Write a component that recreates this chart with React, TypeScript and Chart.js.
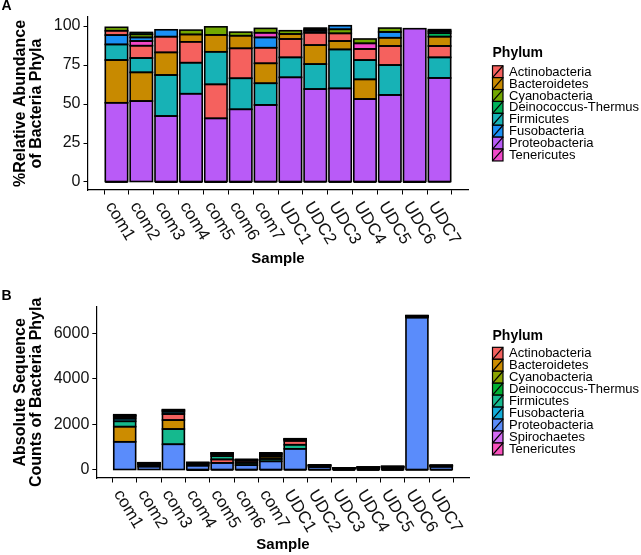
import React, { useEffect, useRef } from "react";
import { Chart, registerables } from "chart.js";

Chart.register(...registerables);

// ---------- shared ----------
const samples = ["com1", "com2", "com3", "com4", "com5", "com6", "com7", "UDC1", "UDC2", "UDC3", "UDC4", "UDC5", "UDC6", "UDC7"];

// ---------- Panel A: % relative abundance ----------
const phylaA = ["Actinobacteria", "Bacteroidetes", "Cyanobacteria", "Deinococcus-Thermus", "Firmicutes", "Fusobacteria", "Proteobacteria", "Tenericutes"];
const colorsA = ["#F5615E", "#C88A00", "#72A800", "#00B35A", "#17B2B6", "#1A90F5", "#B95BF7", "#F247C9"];
const actinoA = [2.8, 7.9, 10.1, 13.4, 21.8, 19.2, 10.0, 11.8, 7.9, 4.9, 7.1, 12.2, 0, 7.3];
const bacteroA = [27.4, 18.4, 14.5, 4.7, 10.8, 8.1, 12.8, 3.2, 12.2, 5.4, 12.6, 5.3, 0, 6.0];
const cyanoA = [2.2, 2.0, 0, 2.8, 5.2, 2.3, 2.8, 2.1, 1.0, 2.6, 2.8, 2.5, 0, 1.0];
const deinoA = [0, 1.2, 0, 0, 0, 0, 0, 0, 0.8, 0, 0, 0, 0, 2.3];
const firmA = [10.0, 9.2, 26.3, 19.9, 20.9, 19.9, 13.9, 12.8, 16.0, 25.0, 12.4, 19.2, 0, 13.2];
const fusoA = [6.0, 2.3, 4.4, 0, 0, 0, 6.6, 0, 1.2, 2.3, 0, 3.7, 0, 1.2];
const proteoA = [50.8, 51.9, 42.3, 56.6, 40.8, 46.6, 49.4, 67.1, 59.6, 60.0, 53.2, 55.8, 98.3, 66.7];
const teneriA = [0, 3.0, 0, 0, 0, 0, 3.0, 0, 0, 0, 3.6, 0, 0, 0];
const yTicksA = [0, 25, 50, 75, 100];

// ---------- Panel B: absolute sequence counts ----------
const phylaB = ["Actinobacteria", "Bacteroidetes", "Cyanobacteria", "Deinococcus-Thermus", "Firmicutes", "Fusobacteria", "Proteobacteria", "Spirochaetes", "Tenericutes"];
const colorsB = ["#F4615E", "#CC8C00", "#8BA400", "#00B033", "#15B98E", "#12AEDA", "#5A8CFB", "#D46BF5", "#F952BD"];
const actinoB = [75, 30, 265, 47, 155, 90, 75, 170, 18, 5, 10, 20, 20, 15];
const bacteroB = [665, 70, 395, 17, 80, 40, 100, 45, 27, 5, 19, 9, 15, 13];
const cyanoB = [55, 8, 50, 10, 40, 12, 22, 30, 2, 2.5, 4, 4, 8, 2];
const deinoB = [25, 6, 30, 0, 10, 5, 0, 10, 2, 0, 0, 0, 0, 5];
const firmB = [235, 35, 670, 70, 148, 95, 105, 180, 35, 23, 18, 30, 30, 28];
const fusoB = [115, 10, 100, 0, 10, 5, 50, 10, 3, 2.5, 0, 6, 0, 3];
const proteoB = [1240, 150, 1130, 190, 310, 215, 380, 930, 130, 55, 75, 90, 6700, 140];
const spiroB = [0, 0, 0, 0, 0, 0, 0, 0, 0, 0, 0, 0, 10, 0];
const teneriB = [20, 12, 15, 0, 0, 0, 23, 0, 0, 0, 5, 0, 5, 0];
const yTicksB = [0, 2000, 4000, 6000];

const FONT = "'Liberation Sans', Arial, Helvetica, sans-serif";

function buildLayers(values: number[][], colors: string[]) {
  const sorted = samples.map((_, i) =>
    values
      .map((arr, p) => ({ p, v: arr[i] }))
      .filter((e) => e.v > 0)
      .sort((a, b) => b.v - a.v)
  );
  const maxLayers = Math.max(...sorted.map((s) => s.length));
  const ds: any[] = [];
  for (let k = 0; k < maxLayers; k++) {
    ds.push({
      label: "layer" + k,
      data: sorted.map((s, i) => ({ x: i + 1, y: s[k] ? s[k].v : null })),
      backgroundColor: sorted.map((s) => (s[k] ? colors[s[k].p] : "rgba(0,0,0,0)")),
      borderWidth: 0,
      barPercentage: 0.9,
      categoryPercentage: 1,
      stack: "s",
    });
  }
  return ds;
}

type PanelOpts = {
  letter: string;
  letterY: number;
  yTitle: string[];
  yTitleX: number[];
  xTitleY: number;
  legendTitleY: number;
  legendFirstY: number;
  legendStep: number;
  phyla: string[];
  colors: string[];
};

function makePlugin(o: PanelOpts) {
  return {
    id: "custom" + o.letter,
    afterDatasetsDraw(chart: any) {
      // ggplot-style outlines, stroked centred on each bar edge
      const ctx = chart.ctx as CanvasRenderingContext2D;
      ctx.save();
      ctx.strokeStyle = "#000";
      ctx.lineWidth = 1.6;
      chart.getSortedVisibleDatasetMetas().forEach((meta: any) => {
        meta.data.forEach((el: any) => {
          const p = el.getProps(["x", "y", "base", "width"], true);
          if (!isFinite(p.y) || !isFinite(p.base) || !isFinite(p.x)) return;
          const top = Math.min(p.y, p.base);
          const h = Math.abs(p.base - p.y);
          ctx.strokeRect(p.x - p.width / 2, top, p.width, h);
        });
      });
      ctx.restore();
    },
    afterDraw(chart: any) {
      const ctx = chart.ctx as CanvasRenderingContext2D;
      const area = chart.chartArea;
      const xs = chart.scales.x;
      ctx.save();
      ctx.fillStyle = "#000";
      // panel letter
      ctx.font = `bold 14px ${FONT}`;
      ctx.textAlign = "left";
      ctx.textBaseline = "alphabetic";
      ctx.fillText(o.letter, 1.5, o.letterY);
      // y title
      ctx.font = `bold 16px ${FONT}`;
      ctx.textAlign = "center";
      ctx.textBaseline = "middle";
      const cy = (area.top + area.bottom) / 2;
      o.yTitle.forEach((line, j) => {
        ctx.save();
        ctx.translate(o.yTitleX[j], cy);
        ctx.rotate(-Math.PI / 2);
        ctx.fillText(line, 0, 0);
        ctx.restore();
      });
      // x tick labels (rotated)
      ctx.font = `17px ${FONT}`;
      ctx.fillStyle = "#111";
      ctx.textAlign = "left";
      ctx.textBaseline = "top";
      samples.forEach((s, i) => {
        const px = xs.getPixelForValue(i + 1);
        ctx.save();
        ctx.translate(px, area.bottom + 9);
        ctx.rotate((59 * Math.PI) / 180);
        ctx.fillText(s, 0, 0);
        ctx.restore();
      });
      // x title
      ctx.fillStyle = "#000";
      ctx.font = `bold 15px ${FONT}`;
      ctx.textAlign = "center";
      ctx.textBaseline = "middle";
      ctx.fillText("Sample", (area.left + area.right) / 2, o.xTitleY);
      // legend
      ctx.textAlign = "left";
      ctx.font = `bold 14px ${FONT}`;
      ctx.fillText("Phylum", 492.5, o.legendTitleY);
      ctx.font = `13px ${FONT}`;
      const kx = 492.5;
      const kw = 10.5;
      const kh = o.legendStep;
      o.phyla.forEach((name, j) => {
        const yc = o.legendFirstY + j * o.legendStep;
        const top = yc - kh / 2;
        ctx.fillStyle = o.colors[j];
        ctx.fillRect(kx, top, kw, kh);
        ctx.strokeStyle = "#000";
        ctx.lineWidth = 1.2;
        ctx.strokeRect(kx, top, kw, kh);
        ctx.beginPath();
        ctx.moveTo(kx, top + kh);
        ctx.lineTo(kx + kw, top);
        ctx.stroke();
        ctx.fillStyle = "#000";
        ctx.fillText(name, 509, yc + 0.5);
      });
      ctx.restore();
    },
  };
}

function makeConfig(
  values: number[][],
  colors: string[],
  yTicks: number[],
  yMin: number,
  yMax: number,
  geo: { left: number; right: number; top: number; bottom: number; height: number },
  plugin: any
): any {
  return {
    type: "bar",
    data: { datasets: buildLayers(values, colors) },
    options: {
      responsive: false,
      maintainAspectRatio: false,
      animation: false,
      devicePixelRatio: 1,
      layout: { padding: { left: 0, top: geo.top, right: 641 - geo.right, bottom: 0 } },
      plugins: { legend: { display: false }, tooltip: { enabled: false } },
      scales: {
        x: {
          type: "linear",
          min: 0.4,
          max: 14.6,
          stacked: true,
          afterBuildTicks: (s: any) => {
            s.ticks = samples.map((_, i) => ({ value: i + 1 }));
          },
          afterFit: (s: any) => {
            s.height = geo.height - geo.bottom;
          },
          ticks: { display: false },
          grid: { display: true, drawOnChartArea: false, drawTicks: true, tickLength: 4.5, color: "#000", lineWidth: 1 },
          border: { display: true, color: "#000", width: 1.2 },
        },
        y: {
          type: "linear",
          min: yMin,
          max: yMax,
          stacked: true,
          afterBuildTicks: (s: any) => {
            s.ticks = yTicks.map((v) => ({ value: v }));
          },
          afterFit: (s: any) => {
            s.width = geo.left;
          },
          ticks: {
            color: "#111",
            padding: 3,
            font: { family: FONT, size: 16 },
            callback: (v: any) => String(v),
          },
          grid: { display: true, drawOnChartArea: false, drawTicks: true, tickLength: 4.5, color: "#000", lineWidth: 1 },
          border: { display: true, color: "#000", width: 1.2 },
        },
      },
    },
    plugins: [plugin],
  };
}

export default function App() {
  const refA = useRef<HTMLCanvasElement>(null);
  const refB = useRef<HTMLCanvasElement>(null);

  useEffect(() => {
    const valuesA = [actinoA, bacteroA, cyanoA, deinoA, firmA, fusoA, proteoA, teneriA];
    const valuesB = [actinoB, bacteroB, cyanoB, deinoB, firmB, fusoB, proteoB, spiroB, teneriB];
    const pluginA = makePlugin({
      letter: "A",
      letterY: 10,
      yTitle: ["%Relative Abundance", "of Bacteria Phyla"],
      yTitleX: [21, 37],
      xTitleY: 259,
      legendTitleY: 53.5,
      legendFirstY: 71.7,
      legendStep: 11.9,
      phyla: phylaA,
      colors: colorsA,
    });
    const pluginB = makePlugin({
      letter: "B",
      letterY: 15,
      yTitle: ["Absolute Sequence", "Counts of Bacteria Phyla"],
      yTitleX: [21, 36.5],
      xTitleY: 260,
      legendTitleY: 50.7,
      legendFirstY: 68.3,
      legendStep: 11.96,
      phyla: phylaB,
      colors: colorsB,
    });
    const a = new Chart(
      refA.current!,
      makeConfig(valuesA, colorsA, yTicksA, -5.13, 105.8, { left: 88, right: 468, top: 17, bottom: 190, height: 285 }, pluginA)
    );
    const b = new Chart(
      refB.current!,
      makeConfig(valuesB, colorsB, yTicksB, -352, 7178, { left: 96.8, right: 469.2, top: 21.7, bottom: 193, height: 270 }, pluginB)
    );
    return () => {
      a.destroy();
      b.destroy();
    };
  }, []);

  return (
    <div style={{ position: "fixed", left: 0, top: 0, width: 641, height: 555, background: "#fff" }}>
      <canvas ref={refA} width={641} height={285} style={{ display: "block", width: 641, height: 285 }} />
      <canvas ref={refB} width={641} height={270} style={{ display: "block", width: 641, height: 270 }} />
    </div>
  );
}
